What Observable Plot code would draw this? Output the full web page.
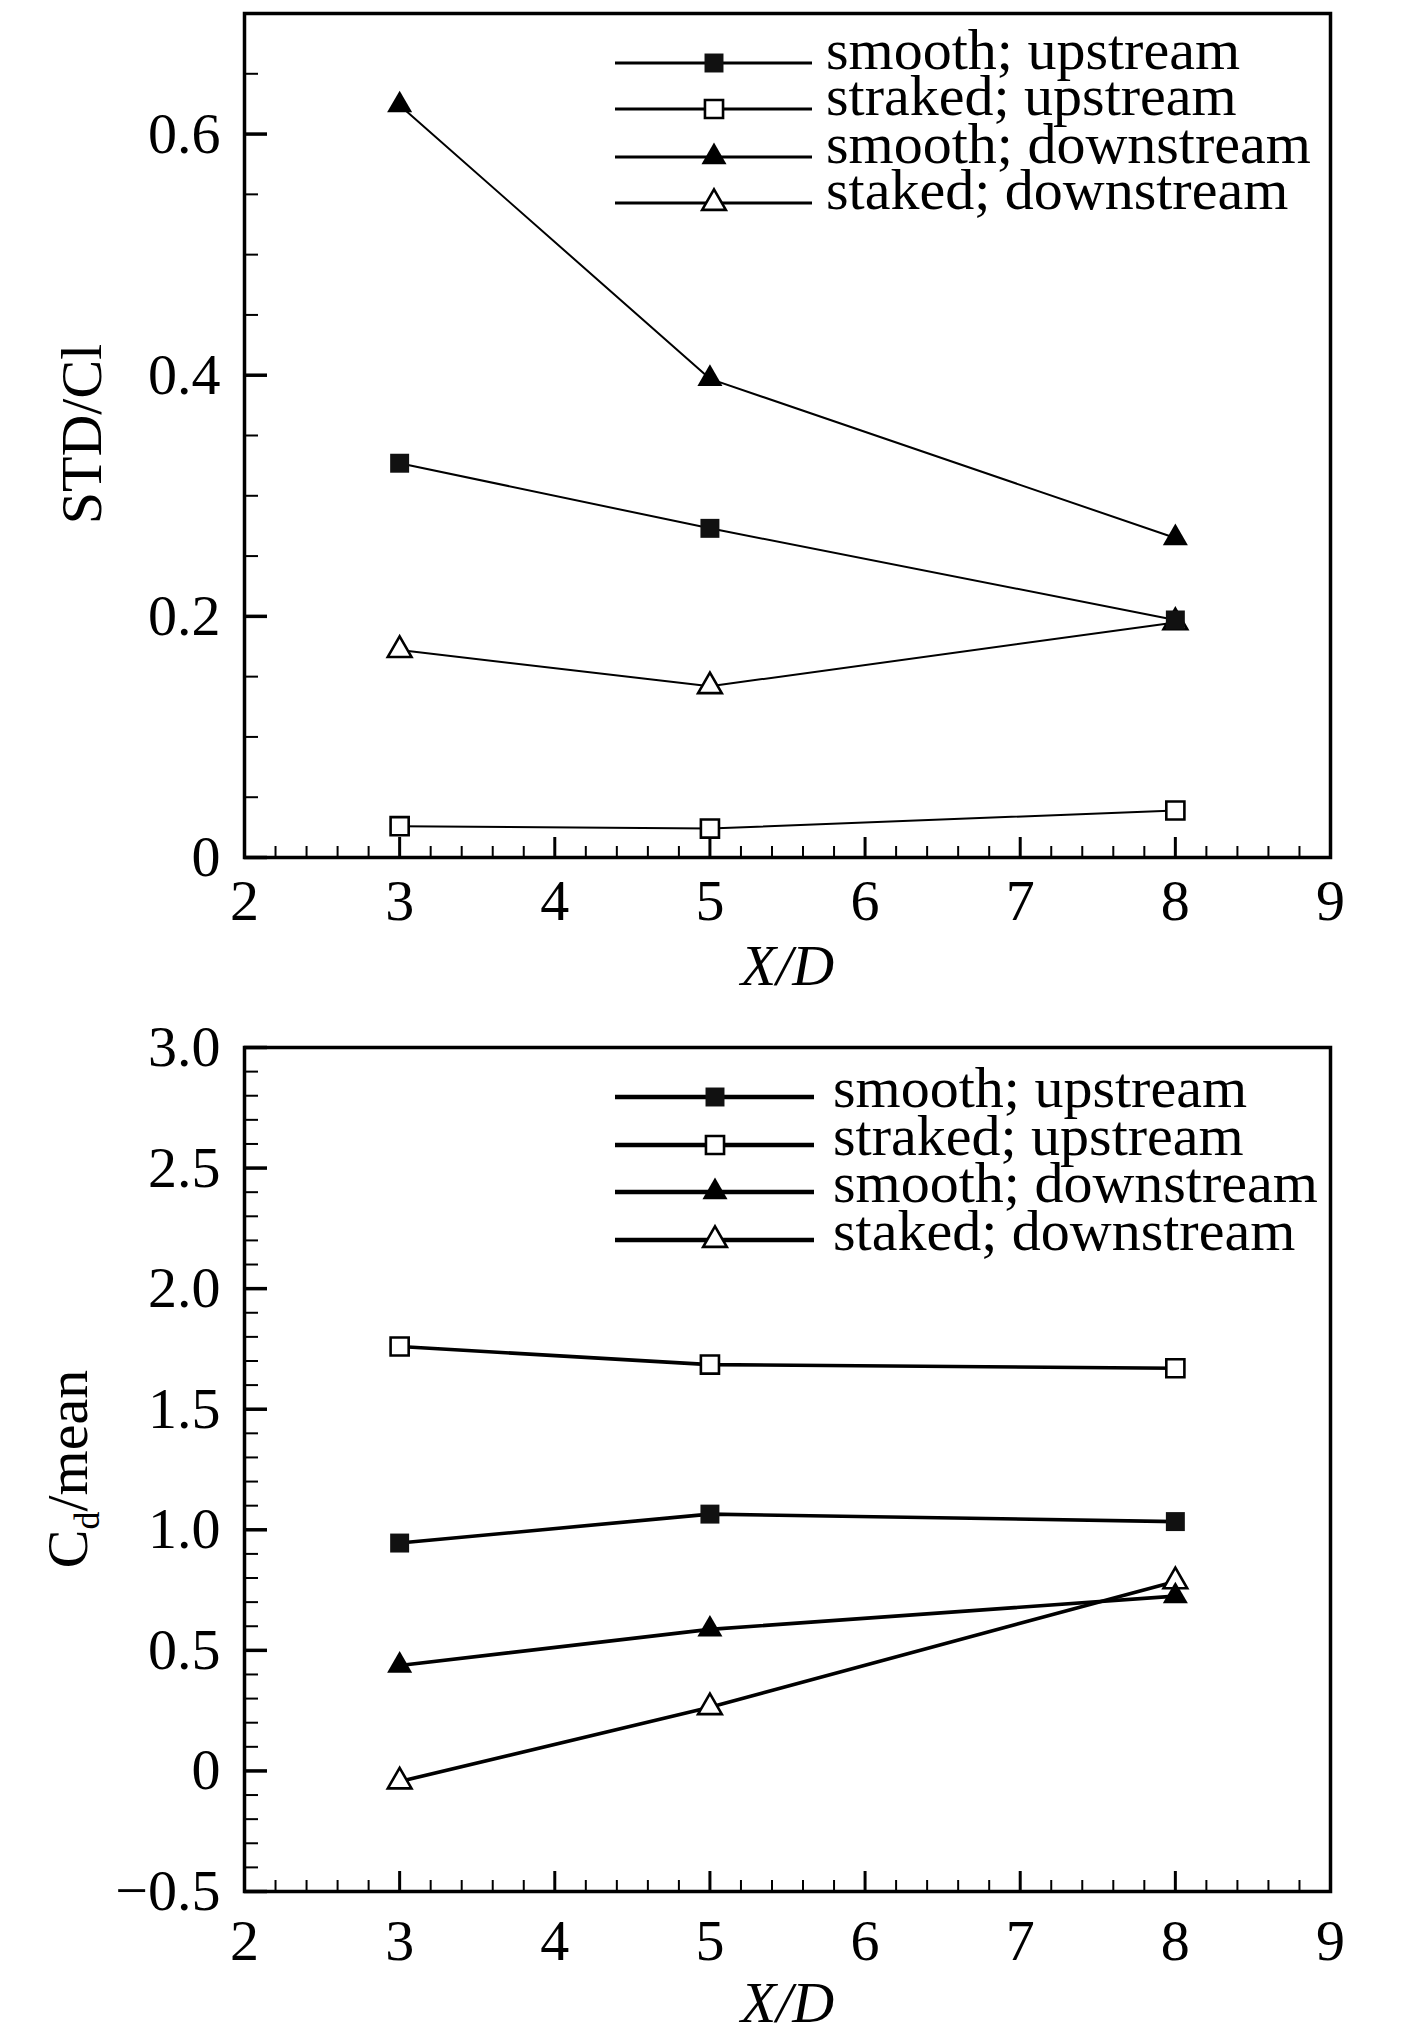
<!DOCTYPE html>
<html><head><meta charset="utf-8">
<script src="https://cdn.jsdelivr.net/npm/d3@7"></script>
<script src="https://cdn.jsdelivr.net/npm/@observablehq/plot@0.6"></script>
<style>
body{margin:0;background:#fff;}
#wrap{position:relative;width:1417px;height:2036px;overflow:hidden;background:#fff;font-family:"Liberation Serif","Times New Roman",serif;}
#wrap > svg{position:absolute;left:0;}
</style></head><body><div id="wrap"></div>
<script>
// ---- data ----
const xPositions = [3, 5, 8];
const seriesNames = ["smooth; upstream", "straked; upstream", "smooth; downstream", "staked; downstream"];
const stdSmoothUp    = [0.327, 0.273, 0.197];
const stdStrakedUp   = [0.026, 0.024, 0.039];
const stdSmoothDown  = [0.624, 0.397, 0.265];
const stdStakedDown  = [0.172, 0.142, 0.195];
const cdSmoothUp     = [0.945, 1.065, 1.034];
const cdStrakedUp    = [1.760, 1.685, 1.670];
const cdSmoothDown   = [0.437, 0.587, 0.725];
const cdStakedDown   = [-0.044, 0.264, 0.786];
const xTicks  = [2, 3, 4, 5, 6, 7, 8, 9];
const stdTicks = [0, 0.2, 0.4, 0.6];
const cdTicks  = [-0.5, 0, 0.5, 1.0, 1.5, 2.0, 2.5, 3.0];

// ---- styles ----
const FONT = '"Liberation Serif","Times New Roman",serif';
const styles = [
  {symbol: "square",   fill: "#111", stroke: "none", r: 10.7},
  {symbol: "square",   fill: "#fff", stroke: "#000", r: 10.2},
  {symbol: "triangle", fill: "#000", stroke: "none", r: 9.3},
  {symbol: "triangle", fill: "#fff", stroke: "#000", r: 8.8}
];
const drawOrder = [1, 3, 0, 2];
const fmt = d => d === 0 ? "0" : d3.format(".1f")(d);
const W = 1417, mL = 244, mR = 87;

function makePlot({values, yDomain, yTicks, yMinorStep, height, marginTop, marginBottom, lineWidth, xPad, titleDy}) {
  const rows = [];
  seriesNames.forEach((s, i) => xPositions.forEach((x, j) => rows.push({series: s, i, x, y: values[i][j]})));
  const fh = height - marginTop - marginBottom;
  const fw = W - mL - mR;
  const isMajor = (v, arr) => arr.some(t => Math.abs(t - v) < 1e-6);
  const xMinor = d3.range(2, 9.0001, 0.2).filter(v => !isMajor(v, xTicks) && v < 8.999);
  const yMinor = d3.range(yDomain[0], yDomain[1] + 1e-6, yMinorStep).filter(v => !isMajor(v, yTicks) && v < yDomain[1] - 1e-6);
  const marks = [
    Plot.line(rows, {x: "x", y: "y", z: "series", stroke: "#000", strokeWidth: lineWidth}),
    ...drawOrder.map(i => {
      const st = styles[i];
      return Plot.dot(rows.filter(r => r.i === i), {
        x: "x", y: "y", symbol: st.symbol, r: st.r, fill: st.fill, stroke: st.stroke, strokeWidth: 2.6
      });
    }),
    Plot.tickY(yMinor, {y: d => d, insetRight: fw - 14, strokeWidth: 2, stroke: "#000"}),
    Plot.tickY(yTicks, {y: d => d, insetRight: fw - 23, strokeWidth: 3.5, stroke: "#000"}),
    Plot.tickX(xMinor, {x: d => d, insetTop: fh - 11, strokeWidth: 2, stroke: "#000"}),
    Plot.tickX(xTicks, {x: d => d, insetTop: fh - 20, strokeWidth: 3, stroke: "#000"}),
    Plot.frame({stroke: "#000", strokeWidth: 3.5}),
    Plot.text(["X/D"], {text: d => d, frameAnchor: "bottom", dy: titleDy, lineAnchor: "middle",
      fontStyle: "italic", fontSize: 58, fill: "#000"})
  ];
  return Plot.plot({
    width: W, height, marginLeft: mL, marginRight: mR, marginTop, marginBottom,
    style: {fontFamily: FONT, fontSize: "58px", color: "#000", background: "transparent"},
    x: {domain: [2, 9], ticks: xTicks, tickSize: 0, tickPadding: xPad, tickFormat: d => String(d), label: null},
    y: {domain: yDomain, ticks: yTicks, tickSize: 0, tickPadding: 24, tickFormat: fmt, label: null},
    marks
  });
}

const wrap = document.getElementById("wrap");
const SPLIT = 1003;
const top1 = makePlot({
  values: [stdSmoothUp, stdStrakedUp, stdSmoothDown, stdStakedDown],
  yDomain: [0, 0.7], yTicks: stdTicks, yMinorStep: 0.05,
  height: SPLIT, marginTop: 13, marginBottom: SPLIT - 857, lineWidth: 2, xPad: 21, titleDy: 109
});
top1.style.top = "0px";
wrap.appendChild(top1);
const bot = makePlot({
  values: [cdSmoothUp, cdStrakedUp, cdSmoothDown, cdStakedDown],
  yDomain: [-0.5, 3.0], yTicks: cdTicks, yMinorStep: 0.1,
  height: 2036 - SPLIT, marginTop: 1047 - SPLIT, marginBottom: 145, lineWidth: 3.6, xPad: 27, titleDy: 112
});
bot.style.top = SPLIT + "px";
wrap.appendChild(bot);

// ---- overlay: axis titles and legends ----
const ov = d3.select(wrap).append("svg")
  .attr("width", W).attr("height", 2036)
  .style("top", "0px").style("pointer-events", "none")
  .attr("font-family", FONT);

ov.append("text").attr("transform", "translate(101,434) rotate(-90)")
  .attr("text-anchor", "middle").attr("font-size", 58).attr("fill", "#000").text("STD/Cl");
const cd = ov.append("text").attr("transform", "translate(87,1469) rotate(-90)")
  .attr("text-anchor", "middle").attr("font-size", 58).attr("fill", "#000");
cd.append("tspan").text("C");
cd.append("tspan").attr("font-size", 36).attr("dy", 12).text("d");
cd.append("tspan").attr("dy", -12).text("/mean");

function legend(rowsY, x1, x2, xm, xt, baseOff, lw) {
  seriesNames.forEach((name, i) => {
    const y = rowsY[i], st = styles[i];
    ov.append("line").attr("x1", x1).attr("x2", x2).attr("y1", y).attr("y2", y)
      .attr("stroke", "#000").attr("stroke-width", lw);
    ov.append("path").attr("d", d3.symbol(st.symbol === "square" ? d3.symbolSquare : d3.symbolTriangle, st.r * st.r * Math.PI)())
      .attr("transform", `translate(${xm},${y})`)
      .attr("fill", st.fill).attr("stroke", st.stroke).attr("stroke-width", 2.6);
    ov.append("text").attr("x", xt).attr("y", y + baseOff).attr("font-size", 58).attr("fill", "#000").text(name);
  });
}
legend([63, 109, 157, 203], 615, 812, 714, 826, 6, 3);
legend([1097, 1145, 1192, 1240], 615, 814, 715, 833, 10, 4.5);
</script></body></html>
